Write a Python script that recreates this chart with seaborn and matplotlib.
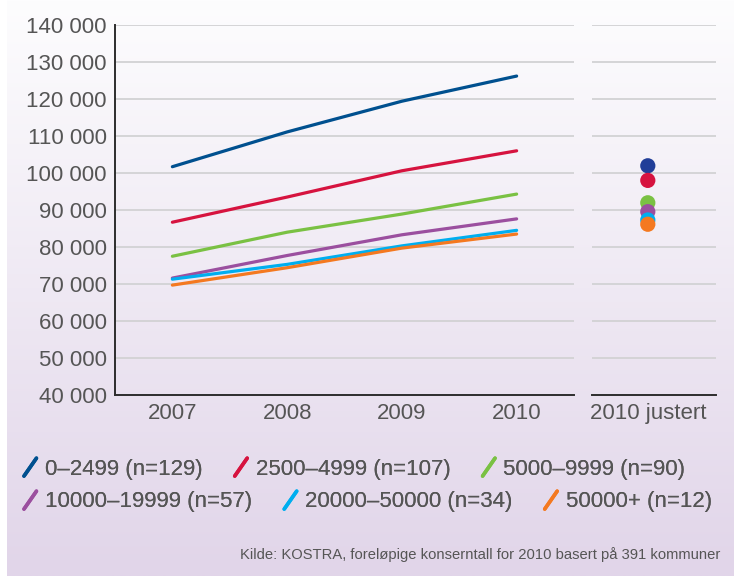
import numpy as np
import pandas as pd
import matplotlib
matplotlib.use("Agg")
import matplotlib.pyplot as plt
from matplotlib.lines import Line2D
from matplotlib.legend_handler import HandlerBase
from matplotlib.ticker import FixedLocator, FuncFormatter, MultipleLocator
import seaborn as sns

# ---------------- data ----------------
years = ["2007", "2008", "2009", "2010"]
groups = ["0–2499 (n=129)", "2500–4999 (n=107)", "5000–9999 (n=90)",
          "10000–19999 (n=57)", "20000–50000 (n=34)", "50000+ (n=12)"]
v_0_2499 = [101700, 111100, 119400, 126200]
v_2500_4999 = [86700, 93500, 100600, 106000]
v_5000_9999 = [77500, 84000, 88900, 94300]
v_10000_19999 = [71600, 77700, 83300, 87600]
v_20000_50000 = [71300, 75300, 80300, 84500]
v_50000p = [69700, 74400, 79700, 83500]
adjusted_label = "2010 justert"
adjusted_2010 = [101950, 98000, 91950, 89550, 87300, 86150]

line_colors = ["#00508f", "#d6133f", "#7ac143", "#9b4f9f", "#00aeef", "#f47920"]
dot_colors = ["#213e98", "#d6133f", "#7ac143", "#9b4f9f", "#00aeef", "#f47920"]
source_text = "Kilde: KOSTRA, foreløpige konserntall for 2010 basert på 391 kommuner"

series = [v_0_2499, v_2500_4999, v_5000_9999, v_10000_19999, v_20000_50000, v_50000p]
df = pd.DataFrame({
    "year": [y for _ in groups for y in years],
    "value": [v for s in series for v in s],
    "group": [g for g in groups for _ in years],
})
df_adj = pd.DataFrame({"label": [adjusted_label] * len(groups),
                       "value": adjusted_2010, "group": groups})

# ---------------- style ----------------
sns.set_style("white")
plt.rcParams["font.family"] = ["Liberation Sans", "DejaVu Sans"]
TXT = "#555555"
SPINE = "#2d2d2d"
GRID = "#d2d2d4"
FS = 16

W, H = 734, 576
fig = plt.figure(figsize=(W / 100, H / 100), dpi=100)
fig.patch.set_facecolor("white")

# gradient background
bg = fig.add_axes([7 / W, 0, 1 - 7 / W, 1], zorder=-10)
top = np.array([253, 253, 254]) / 255
bot = np.array([225, 213, 233]) / 255
t = np.linspace(0, 1, 256)[:, None]
grad = top[None, :] * (1 - t) + bot[None, :] * t
bg.imshow(grad[:, None, :], aspect="auto", extent=[0, 1, 0, 1])
bg.set_axis_off()

def fy(px):
    return 1 - px / H

ax_b, ax_t = fy(395), fy(25)
ax = fig.add_axes([115 / W, ax_b, (574 - 115) / W, ax_t - ax_b])
ax2 = fig.add_axes([592 / W, ax_b, (716 - 592) / W, ax_t - ax_b])

sns.lineplot(data=df, x="year", y="value", hue="group", hue_order=groups,
             palette=line_colors, linewidth=2.3, legend=False, ax=ax, sort=False)
sns.scatterplot(data=df_adj, x="label", y="value", hue="group", hue_order=groups,
                palette=dot_colors, s=120, linewidth=0, legend=False, ax=ax2)

fmt = FuncFormatter(lambda v, p: f"{v:,.0f}".replace(",", " "))
for a in (ax, ax2):
    a.set_facecolor("none")
    a.set_ylim(40000, 140000)
    a.yaxis.set_major_locator(MultipleLocator(10000))
    a.grid(axis="y", color=GRID, linewidth=1.3)
    a.grid(axis="x", visible=False)
    a.set_axisbelow(True)
    a.set_xlabel("")
    a.set_ylabel("")
    for s in ("top", "right"):
        a.spines[s].set_visible(False)
    a.spines["bottom"].set_color(SPINE)
    a.spines["bottom"].set_linewidth(1.4)
    a.tick_params(axis="x", which="major", length=0, labelsize=FS, labelcolor=TXT, pad=6)
    a.tick_params(axis="x", which="minor", length=8, width=1.4, color=SPINE, direction="out")

ax.set_xlim(-0.5, 3.5)
ax.xaxis.set_minor_locator(FixedLocator([0.5, 1.5, 2.5, 3.5]))
ax.yaxis.set_major_formatter(fmt)
ax.tick_params(axis="y", length=0, labelsize=FS, labelcolor=TXT, pad=6)
ax.spines["left"].set_color(SPINE)
ax.spines["left"].set_linewidth(1.4)

ax2.set_xlim(-0.45, 0.55)
ax2.xaxis.set_minor_locator(FixedLocator([0.55]))
ax2.spines["left"].set_visible(False)
ax2.tick_params(axis="y", length=0, labelleft=False)

# legend with diagonal handles
class DiagHandler(HandlerBase):
    def create_artists(self, legend, orig_handle, xdescent, ydescent,
                       width, height, fontsize, trans):
        x0, y0 = -xdescent, -ydescent - 0.1 * height
        ln = Line2D([x0, x0 + width], [y0, y0 + height * 1.15],
                    color=orig_handle.get_color(), linewidth=2.6,
                    solid_capstyle="round", transform=trans)
        return [ln]

handles = [Line2D([], [], color=c) for c in line_colors]
rows = [(0, 3, 469), (3, 6, 502)]
for i0, i1, ypx in rows:
    leg = fig.legend(handles[i0:i1], groups[i0:i1], ncol=3,
                     loc="center left", bbox_to_anchor=(24 / W, fy(ypx)),
                     frameon=False, fontsize=FS, labelcolor=TXT,
                     handler_map={Line2D: DiagHandler()},
                     handlelength=0.56, handleheight=0.7, handletextpad=0.38,
                     columnspacing=1.45, borderpad=0, borderaxespad=0)
    fig.add_artist(leg)

fig.text(720 / W, fy(555), source_text, ha="right", va="center",
         fontsize=10.6, color=TXT)

fig.savefig("out.png", dpi=100)
